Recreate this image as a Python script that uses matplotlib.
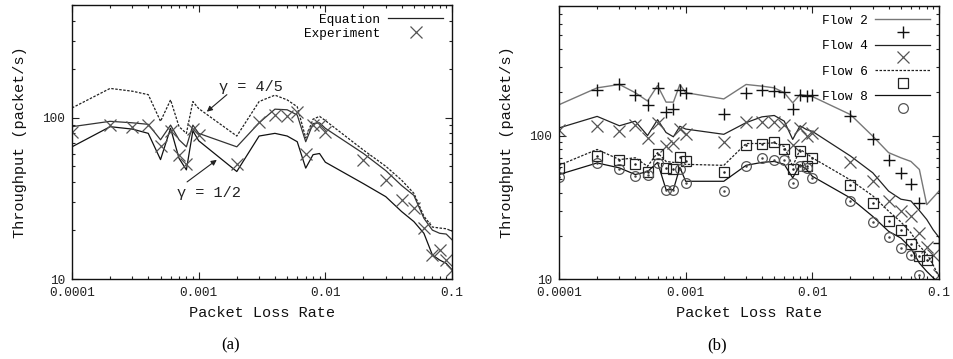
import numpy as np
import matplotlib
matplotlib.use("Agg")
import matplotlib.pyplot as plt
from matplotlib.lines import Line2D
from matplotlib.ticker import LogLocator, NullFormatter, FixedLocator, FixedFormatter

plt.rcParams['font.family'] = ['Liberation Mono', 'DejaVu Sans Mono']

# ---------------- data ----------------
loss = [0.0001, 0.0002, 0.0003, 0.0004, 0.0005, 0.0006, 0.0007, 0.0008, 0.0009,
        0.001, 0.002, 0.003, 0.004, 0.005, 0.006, 0.007, 0.008, 0.009,
        0.01, 0.02, 0.03, 0.04, 0.05, 0.06, 0.07, 0.08, 0.09, 0.1]

# panel (a)
eq_gamma45 = [115, 152, 146, 139, 95, 129, 88, 80, 126,
              114, 77, 126, 138, 129, 117, 75, 98, 102,
              96, 63, 50, 41, 34, 24.5, 21, 20.7, 20.5, 19.8]
eq_main = [88, 95, 93, 91, 73, 90, 73, 66, 90,
           80, 66, 93, 113, 112, 104, 71, 92, 93,
           86, 60, 47, 38, 33, 23.8, 20.1, 19.2, 19, 17.5]
eq_gamma12 = [66, 88, 85, 80, 55, 86, 56, 47.5, 83,
              72, 46.4, 77, 80, 77, 71, 48.7, 59, 60,
              53, 39, 32.4, 26.2, 22.7, 19.2, 14.1, 13.1, 12.5, 11.4]
experiment = [81, 90, 88, 90, 67, 83, 59, 52, 85,
              78, 52, 94, 104, 102, 108, 60, 90, 90,
              82, 55, 41, 31, 27.5, 20.6, 14.1, 15.1, 13.1, 11.4]

# panel (b)
nan = np.nan
flow2_eq = [164, 215, 227, 199, 174, 223, 171, 171, 227,
            199, 180, 227, 221, 215, 199, 169, 193, 190,
            187, 140, 99, 76, 70, 66, 58, 33, 37, 41]
flow2_exp = [nan, 209, 227, 193, 162, 215, 146, 154, 209,
             199, 142, 199, 209, 204, 200, 154, 193, 190,
             193, 136, 95, 67, 55, 46, 34, nan, nan, 17.8]
flow4_eq = [113, 136, 117, 126, 100, 129, 105, 98, 116,
            111, 102, 123, 135, 138, 126, 94, 117, 110,
            107, 72, 55, 41, 36, 35, 30, 26, 22, 19.5]
flow4_exp = [110, 116, 107, 119, 96, 123, 84, 89, 111,
             102, 90, 124, 124, 124, 119, 86, 113, 100,
             104, 65, 48, 35, 30, 27.7, 21, 16.7, 14.8, 10.7]
flow6_eq = [62, 80, 68, 70, 61, 76, 66, 65, 65,
            63, 62, 88, 88, 89, 84, 61, 80, 75,
            70, 49, 38, 29.7, 25, 21, 17, 15, 12.5, 10.4]
flow6_exp = [59, 72, 67, 63, 56, 74, 59, 58, 71,
             66, 56, 86, 87.5, 90, 81, 58.5, 78, 61,
             70, 45, 33.6, 25.2, 21.9, 17.4, 14.4, 13.5, nan, nan]
flow8_eq = [53.5, 64.4, 59.5, 53.5, 56, 65, 42, 42, 60,
            48, 48, 62, 65, 66, 63, 50.7, 62.6, 58,
            52, 36.7, 27.3, 21.5, 19.3, 16.4, 12.9, 11.3, 10.2, 9.4]
flow8_exp = [51.5, 64, 58, 52.6, 53.5, 64, 42, 42, 58.5,
             46.8, 41, 61, 69.5, 68, 67.5, 46.8, 61, 59.5,
             50.7, 35, 24.8, 19.6, 16.4, 14.8, 10.7, nan, nan, nan]

xticks = [0.0001, 0.001, 0.01, 0.1]
xticklabels = ['0.0001', '0.001', '0.01', '0.1']
yticks = [10, 100]
yticklabels = ['10', '100']

# ---------------- figure ----------------
fig = plt.figure(figsize=(9.54, 3.59), dpi=100)
axA = fig.add_axes([72/954, 80/359, 380/954, 274/359])
axB = fig.add_axes([559/954, 80/359, 380/954, 273/359])

TICKFS = 9.2
LABFS = 11


def style(ax, ytop):
    ax.set_xscale('log')
    ax.set_yscale('log')
    ax.set_xlim(0.0001, 0.1)
    ax.set_ylim(10, ytop)
    ax.xaxis.set_major_locator(FixedLocator(xticks))
    ax.xaxis.set_major_formatter(FixedFormatter(xticklabels))
    ax.yaxis.set_major_locator(FixedLocator(yticks))
    ax.yaxis.set_major_formatter(FixedFormatter(yticklabels))
    ax.xaxis.set_minor_locator(LogLocator(base=10, subs=np.arange(2, 10), numticks=20))
    ax.yaxis.set_minor_locator(LogLocator(base=10, subs=np.arange(2, 10), numticks=20))
    ax.xaxis.set_minor_formatter(NullFormatter())
    ax.yaxis.set_minor_formatter(NullFormatter())
    ax.tick_params(which='both', direction='in', top=True, right=True,
                   labelsize=TICKFS, colors='#222', width=0.8)
    ax.tick_params(which='major', length=5)
    ax.tick_params(which='minor', length=2.5)
    ax.tick_params(axis='x', pad=6)
    ax.tick_params(axis='y', pad=5)
    for s in ax.spines.values():
        s.set_linewidth(1.0)
        s.set_color('#111')
    ax.set_xlabel('Packet Loss Rate', fontsize=LABFS, color='#111')
    ax.set_ylabel('Throughput (packet/s)', fontsize=LABFS, color='#111')
    ax.xaxis.set_label_coords(0.5, -0.124)
    ax.xaxis.label.set_va('center')
    ax.yaxis.set_label_coords(-0.137, 0.5)
    ax.yaxis.label.set_va('center')


style(axA, 500)
style(axB, 800)

# ---- panel (a)
axA.plot(loss, eq_gamma45, color='#222', lw=0.9, ls=(0, (2, 1.2)))
axA.plot(loss, eq_main, color='#333', lw=0.9, label='Equation')
axA.plot(loss, eq_gamma12, color='#111', lw=0.9)
axA.plot(loss, experiment, ls='none', marker='x', ms=8, mew=0.9, color='#555',
         label='Experiment')

handlesA = [Line2D([], [], color='#222', lw=0.9),
            Line2D([], [], ls='none', marker='x', ms=8, mew=0.9, color='#555')]
legA = axA.legend(handlesA, ['Equation', 'Experiment'], loc='upper right',
                  frameon=False, markerfirst=False, fontsize=TICKFS,
                  handlelength=4.3, handletextpad=0.6, labelspacing=0.15,
                  borderaxespad=0.3)

axA.text(0.00259, 156, 'γ = 4/5', fontsize=LABFS, ha='center', va='center', color='#222')
axA.annotate('', xy=(0.00116, 109), xytext=(0.00167, 139),
             arrowprops=dict(arrowstyle='-|>', lw=0.8, color='#222',
                             mutation_scale=8, shrinkA=0, shrinkB=0))
axA.text(0.0012, 34.2, 'γ = 1/2', fontsize=LABFS, ha='center', va='center', color='#222')
axA.annotate('', xy=(0.00139, 54.8), xytext=(0.00081, 40),
             arrowprops=dict(arrowstyle='-|>', lw=0.8, color='#222',
                             mutation_scale=8, shrinkA=0, shrinkB=0))

# ---- panel (b)
axB.plot(loss, flow2_eq, color='#777', lw=1.0)
axB.plot(loss, flow2_exp, ls='none', marker='+', ms=9, mew=1.0, color='#111')
axB.plot(loss, flow4_eq, color='#222', lw=0.9)
axB.plot(loss, flow4_exp, ls='none', marker='x', ms=8, mew=0.9, color='#555')
axB.plot(loss, flow6_eq, color='#222', lw=0.9, ls=(0, (2, 1.2)))
axB.plot(loss, flow6_exp, ls='none', marker='s', ms=7, mew=0.9, mfc='none', mec='#222')
axB.plot(loss, flow6_exp, ls='none', marker='.', ms=1.6, color='#222')
axB.plot(loss, flow8_eq, color='#111', lw=0.9)
axB.plot(loss, flow8_exp, ls='none', marker='o', ms=7, mew=0.9, mfc='none', mec='#555')
axB.plot(loss, flow8_exp, ls='none', marker='.', ms=1.6, color='#444')

handlesB = [Line2D([], [], color='#777', lw=1.0),
            Line2D([], [], ls='none', marker='+', ms=9, mew=1.0, color='#111'),
            Line2D([], [], color='#222', lw=0.9),
            Line2D([], [], ls='none', marker='x', ms=8, mew=0.9, color='#555'),
            Line2D([], [], color='#222', lw=0.9, ls=(0, (2, 1.2))),
            Line2D([], [], ls='none', marker='s', ms=7, mew=0.9, mfc='none', mec='#222'),
            Line2D([], [], color='#111', lw=0.9),
            Line2D([], [], ls='none', marker='o', ms=7, mew=0.9, mfc='none', mec='#555')]
labelsB = ['Flow 2', ' ', 'Flow 4', ' ', 'Flow 6', ' ', 'Flow 8', ' ']
legB = axB.legend(handlesB, labelsB, loc='upper right',
                  frameon=False, markerfirst=False, fontsize=TICKFS,
                  handlelength=4.3, handletextpad=0.6, labelspacing=0.05,
                  borderaxespad=0.3)

fig.text(231/954, 1 - 345/359, '(a)', fontsize=12, ha='center', va='center',
         family=['Liberation Serif', 'DejaVu Serif'])
fig.text(717/954, 1 - 345/359, '(b)', fontsize=12, ha='center', va='center',
         family=['Liberation Serif', 'DejaVu Serif'])

fig.savefig('out.png', dpi=100)
